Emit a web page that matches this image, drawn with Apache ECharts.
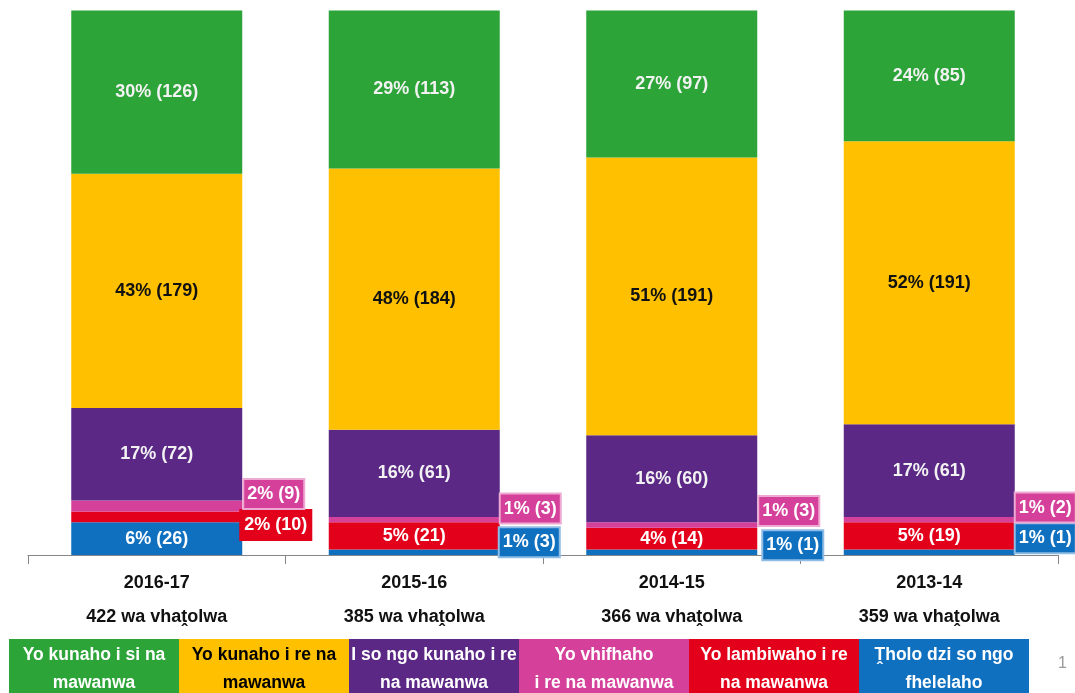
<!DOCTYPE html>
<html>
<head>
<meta charset="utf-8">
<script src="https://cdn.jsdelivr.net/npm/echarts@6/dist/echarts.min.js"></script>
<style>
	html, body { margin: 0; padding: 0; background: #fff; }
	#chart { width: 1075px; height: 693px; }
</style>
</head>
<body>
<div id="chart"></div>
<script>
var categories = ["2016-17", "2015-16", "2014-15", "2013-14"];
var respondents = [422, 385, 366, 359];

// percentages (bar heights) and counts, per outcome
var notFoundPct = [30, 29, 27, 24];
var notFoundCount = [126, 113, 97, 85];
var foundPct = [43, 48, 51, 52];
var foundCount = [179, 184, 191, 191];
var notInvestigatedPct = [17, 16, 16, 17];
var notInvestigatedCount = [72, 61, 60, 61];
var badPct = [2, 1, 1, 1];
var badCount = [9, 3, 3, 2];
var withdrawnPct = [2, 5, 4, 5];
var withdrawnCount = [10, 21, 14, 19];
var unfinishedPct = [6, 1, 1, 1];
var unfinishedCount = [26, 3, 1, 1];

var legendNames = [
	"Yo kunaho i si na mawanwa",
	"Yo kunaho i re na mawanwa",
	"I so ngo kunaho i re na mawanwa",
	"Yo vhifhaho i re na mawanwa",
	"Yo lambiwaho i re na mawanwa",
	"Ṱholo dzi so ngo fhelelaho"
];
var legendLines = [
	["Yo kunaho i si na", "mawanwa"],
	["Yo kunaho i re na", "mawanwa"],
	["I so ngo kunaho i re", "na mawanwa"],
	["Yo vhifhaho", "i re na mawanwa"],
	["Yo lambiwaho i re", "na mawanwa"],
	["Ṱholo dzi so ngo", "fhelelaho"]
];

var FONT = "'Liberation Sans Narrow', 'Arial Narrow', 'Liberation Sans', sans-serif";
var colors = ["#2ca438", "#ffc000", "#5b2886", "#d4409a", "#e2001a", "#1070c0"];
var textColors = ["#f2f2f2", "#111", "#f2f2f2", "#fff", "#fff", "#fff"];
var boxBorders = ["", "", "", "#eeaad2", "#e2001a", "#8fbde6"];

// outside label placement: [dx, dy] by series index / data index
var outside = {
	3: {0: [2, -12], 1: [1, -11], 2: [2, -14], 3: [1, -12]},
	4: {0: [-1, 8]},
	5: {1: [0, -10], 2: [6, -7], 3: [1, -14]}
};

var seriesSource = [
	[notFoundPct, notFoundCount],
	[foundPct, foundCount],
	[notInvestigatedPct, notInvestigatedCount],
	[badPct, badCount],
	[withdrawnPct, withdrawnCount],
	[unfinishedPct, unfinishedCount]
];

var chart = echarts.init(document.getElementById("chart"));

var series = [];
// stack from the bottom: blue, red, pink, purple, yellow, green
for (var s = seriesSource.length - 1; s >= 0; s--) {
	(function (s) {
		var pcts = seriesSource[s][0];
		var counts = seriesSource[s][1];
		var data = pcts.map(function (v, i) {
			var item = {value: v};
			var pos = outside[s] && outside[s][i];
			if (pos) {
				item.label = {
					show: true,
					position: "right",
					distance: 0,
					offset: pos,
					color: "#fff",
					fontFamily: FONT,
					fontWeight: "bold",
					fontSize: 18,
					backgroundColor: colors[s],
					borderColor: boxBorders[s],
					borderWidth: 2,
					padding: [4, 3, 3, 3],
					lineHeight: 21
				};
			}
			return item;
		});
		series.push({
			name: legendNames[s],
			type: "bar",
			stack: "total",
			barWidth: 171,
			itemStyle: {color: colors[s]},
			label: {
				show: !outside[s] || s == 4 || s == 5,
				position: "inside",
				color: textColors[s],
				fontFamily: FONT,
				fontWeight: "bold",
				fontSize: 18,
				formatter: function (p) {
					return pcts[p.dataIndex] + "% (" + counts[p.dataIndex] + ")";
				}
			},
			emphasis: {disabled: true},
			data: data
		});
	})(s);
}

var option = {
	animation: false,
	grid: {left: 28, right: 17, top: 10.5, bottom: 138},
	xAxis: {
		type: "category",
		data: categories,
		axisLine: {lineStyle: {color: "#868686", width: 1}},
		axisTick: {show: true, length: 9, lineStyle: {color: "#868686"}},
		axisLabel: {
			margin: 11,
			formatter: function (v, i) {
				return "{y|" + v + "}\n{n|" + respondents[i] + " wa vhaṱolwa}";
			},
			rich: {
				y: {fontFamily: FONT, fontWeight: "bold", fontSize: 18, color: "#111", lineHeight: 34},
				n: {fontFamily: FONT, fontWeight: "bold", fontSize: 18, color: "#111", lineHeight: 34}
			}
		}
	},
	yAxis: {type: "value", min: 0, max: 100, show: false},
	legend: {
		left: 4,
		top: 639,
		padding: 0,
		itemGap: -5,
		itemWidth: 0,
		itemHeight: 0,
		icon: "none",
		selectedMode: false,
		data: legendNames.map(function (n, i) {
			return {
				name: n,
				textStyle: {color: textColors[i] == "#111" ? "#000" : "#fff", backgroundColor: colors[i]}
			};
		}),
		formatter: function (name) {
			var l = legendLines[legendNames.indexOf(name)];
			return "{a|" + l[0] + "}\n{a|" + l[1] + "}";
		},
		textStyle: {
			fontFamily: FONT,
			fontWeight: "bold",
			fontSize: 17.5,
			padding: [2, 0, 14, 0],
			rich: {
				a: {width: 170, align: "center", fontFamily: FONT, fontWeight: "bold", fontSize: 17.5, lineHeight: 28}
			}
		}
	},
	graphic: [{
		type: "text",
		left: 1058,
		top: 656,
		style: {text: "1", fill: "#9a9a9a", font: "16px 'Liberation Sans', sans-serif"}
	}],
	series: series
};

chart.setOption(option);
</script>
</body>
</html>
